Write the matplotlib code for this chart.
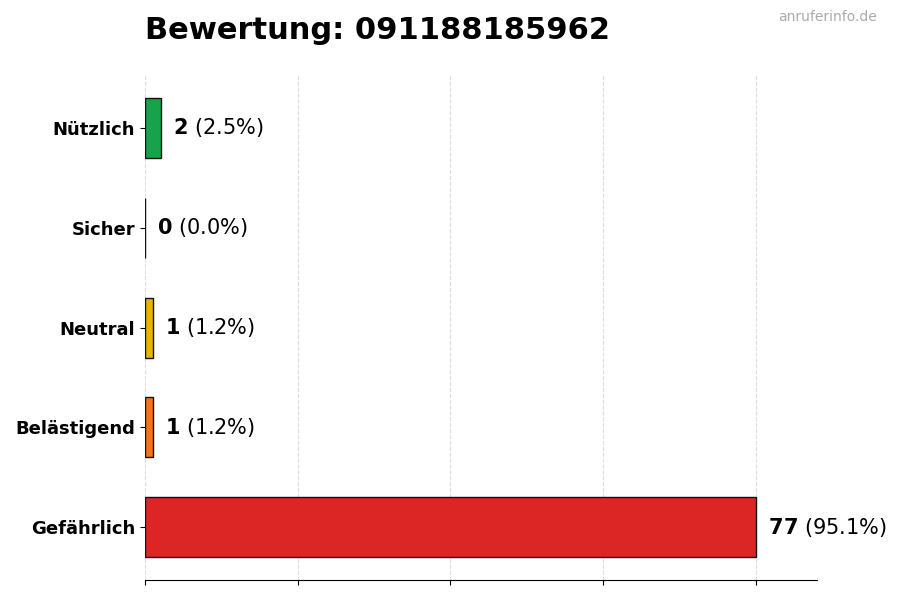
import matplotlib
matplotlib.use("Agg")
import matplotlib.pyplot as plt
import numpy as np

# data, top to bottom as drawn
categories = ["Gefährlich", "Belästigend", "Neutral", "Sicher", "Nützlich"]
counts = [77, 1, 1, 0, 2]
colors = ["#dc2626", "#f97316", "#eab308", "#3b82f6", "#16a34a"]
number = "091188185962"

total = sum(counts)
vmax = max(counts)

fig = plt.figure(figsize=(9, 6), dpi=100)
ax = fig.add_axes([0.161, 0.033, 0.747, 0.842])

y = np.arange(len(categories))
ax.barh(y, counts, height=0.6, color=colors, edgecolor="#111111", linewidth=1, zorder=3)

for yi, c in zip(y, counts):
    pct = c / total * 100
    ax.text(c + vmax * 0.02, yi, r"$\bf{%d}$ (%.1f%%)" % (c, pct),
            va="center", ha="left", fontsize=15)

ax.set_yticks(y)
ax.set_yticklabels(categories, fontsize=13, fontweight="bold")
ax.set_xlim(0, vmax * 1.1)
ax.set_xticks(np.linspace(0, vmax, 5))
ax.set_xticklabels([])
ax.grid(axis="x", linestyle="--", color="#dddddd", linewidth=0.8, zorder=4)
for s in ["top", "right", "left"]:
    ax.spines[s].set_visible(False)

ax.set_title("Bewertung: " + number, loc="left", fontsize=22, fontweight="bold", pad=26)
fig.text(0.974, 0.983, "anruferinfo.de", ha="right", va="top", fontsize=10, color="#aaaaaa")

fig.savefig("out.png", dpi=100)
